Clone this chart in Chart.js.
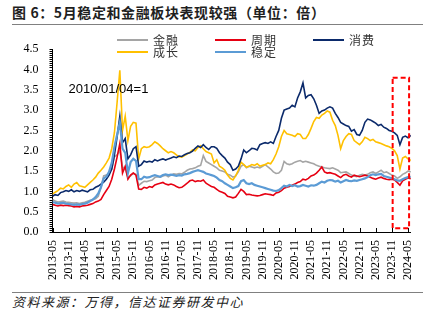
<!DOCTYPE html>
<html>
<head>
<meta charset="utf-8">
<script src="https://cdn.jsdelivr.net/npm/chart.js@4.4.1/dist/chart.umd.min.js"></script>
<style>
  body { margin: 0; width: 437px; height: 326px; background: #fff; position: relative; overflow: hidden;
         font-family: "Noto Sans CJK SC", sans-serif; }
  #title { position: absolute; left: 12px; top: 2px; line-height: 20px; font-size: 14px; font-weight: bold;
           letter-spacing: 0.6px; color: #1f1f1f; white-space: nowrap; }
  .rule { position: absolute; left: 12px; width: 411px; height: 1px; background: #808080; }
  #src { position: absolute; left: 12px; top: 293px; line-height: 18px; font-size: 13px; font-style: italic;
         letter-spacing: 1.5px; color: #222; white-space: nowrap; }
  #wrap { position: absolute; left: 0; top: 28px; width: 437px; height: 264px; }
  .lg { position: absolute; height: 12px; font-size: 12px; line-height: 12px; letter-spacing: 1px; color: #333; white-space: nowrap; }
  .lg i { position: absolute; left: 0; top: 5px; width: 31px; height: 2px; }
  .lg span { position: absolute; left: 36px; top: 0; }
</style>
</head>
<body>
<div id="title">图 6：5月稳定和金融板块表现较强（单位：倍）</div>
<div class="rule" style="top:24px"></div>
<div id="wrap"><canvas id="chart"></canvas></div>
<div class="rule" style="top:292px"></div>
<div id="src">资料来源：万得，信达证券研发中心</div>

<script>
// ---------- Data (monthly, 2013-05 .. 2024-06, 2010/01/04 = 1) ----------
const startYear = 2013, startMonth = 5, monthCount = 134;
const months = [];
for (let i = 0; i < monthCount; i++) {
  const k = startMonth - 1 + i;
  months.push((startYear + Math.floor(k / 12)) + "-" + String(k % 12 + 1).padStart(2, "0"));
}

const seriesNames = ["金融", "周期", "消费", "成长", "稳定"];
const seriesColors = ["#a5a5a5", "#e60012", "#0b2a6b", "#ffc000", "#5b9bd5"];

const finance = [
  0.80,0.76,0.74,0.75,0.76,0.74,0.73,0.72,0.71,0.72,0.70,0.72,0.73,0.76,0.78,0.80,0.82,0.88,1.10,1.38,
  1.40,1.45,1.55,1.85,1.90,2.00,1.60,1.55,1.35,1.38,1.45,1.42,1.15,1.20,1.25,1.24,1.26,1.28,1.34,1.36,
  1.35,1.38,1.40,1.36,1.40,1.43,1.42,1.44,1.43,1.47,1.52,1.55,1.56,1.58,1.62,1.64,1.88,1.74,1.70,1.66,
  1.62,1.58,1.52,1.50,1.48,1.42,1.40,1.35,1.38,1.48,1.62,1.66,1.58,1.62,1.60,1.58,1.60,1.58,1.62,1.66,
  1.60,1.55,1.48,1.44,1.45,1.52,1.74,1.68,1.66,1.68,1.72,1.74,1.76,1.72,1.74,1.72,1.70,1.68,1.64,1.62,
  1.60,1.58,1.57,1.56,1.58,1.55,1.52,1.46,1.47,1.48,1.44,1.40,1.38,1.36,1.40,1.42,1.40,1.42,1.46,1.48,
  1.44,1.48,1.52,1.46,1.48,1.44,1.40,1.38,1.32,1.36,1.42,1.45,1.50,1.48
];
const cyclical = [
  0.68,0.66,0.64,0.66,0.65,0.66,0.65,0.64,0.62,0.63,0.62,0.64,0.65,0.66,0.68,0.70,0.74,0.76,0.80,0.92,
  1.02,1.12,1.30,1.55,1.85,2.18,1.45,1.62,1.30,1.40,1.45,1.40,1.06,1.05,1.10,1.08,1.12,1.10,1.16,1.18,
  1.20,1.22,1.18,1.16,1.18,1.16,1.12,1.09,1.10,1.15,1.20,1.26,1.28,1.24,1.26,1.25,1.28,1.20,1.16,1.12,
  1.10,1.05,1.00,0.98,0.95,0.88,0.86,0.84,0.86,0.95,1.05,1.00,0.92,0.93,0.91,0.90,0.89,0.90,0.92,0.94,
  0.93,0.92,0.90,0.96,0.98,1.02,1.08,1.10,1.12,1.15,1.18,1.22,1.24,1.30,1.28,1.32,1.38,1.40,1.45,1.52,
  1.60,1.48,1.45,1.46,1.44,1.42,1.38,1.34,1.40,1.42,1.38,1.35,1.40,1.38,1.36,1.38,1.40,1.38,1.35,1.32,
  1.30,1.33,1.35,1.32,1.30,1.29,1.30,1.28,1.22,1.15,1.26,1.30,1.33,1.31
];
const consumer = [
  0.88,0.92,0.90,0.97,0.99,1.02,1.00,1.04,0.99,1.02,1.00,1.03,1.01,0.99,1.04,1.05,1.10,1.13,1.18,1.23,
  1.30,1.40,1.55,1.90,2.35,2.85,2.20,2.30,1.80,1.90,2.05,2.10,1.62,1.66,1.75,1.72,1.74,1.72,1.78,1.75,
  1.78,1.80,1.77,1.80,1.82,1.85,1.83,1.87,1.86,1.90,1.93,1.95,1.99,2.06,2.12,2.08,2.15,2.08,2.03,2.10,
  2.10,2.06,1.95,1.88,1.82,1.72,1.66,1.52,1.55,1.62,1.80,2.02,1.95,2.00,2.06,2.05,2.02,2.15,2.18,2.20,
  2.18,2.22,2.18,2.35,2.50,2.80,3.00,3.03,3.05,3.12,3.08,3.30,3.45,3.67,3.30,3.36,3.38,3.28,3.12,2.92,
  2.98,3.00,3.05,3.08,3.05,2.92,2.82,2.70,2.66,2.62,2.60,2.48,2.52,2.40,2.38,2.50,2.70,2.78,2.76,2.72,
  2.68,2.62,2.65,2.58,2.55,2.50,2.48,2.44,2.38,2.15,2.33,2.36,2.32,2.38
];
const growth = [
  0.93,0.98,1.02,1.08,1.06,1.12,1.16,1.10,1.18,1.22,1.14,1.12,1.10,1.16,1.22,1.28,1.35,1.45,1.52,1.60,
  1.70,1.82,2.05,2.45,3.20,3.98,2.50,2.85,2.25,2.60,2.70,2.68,1.80,2.05,2.10,2.08,2.10,2.15,2.22,2.18,
  2.12,2.05,2.00,1.95,1.98,1.95,1.90,1.85,1.84,1.88,1.92,1.96,2.02,2.00,2.08,2.12,2.05,1.98,1.95,1.92,
  1.70,1.78,1.62,1.58,1.52,1.40,1.32,1.28,1.38,1.52,1.72,1.66,1.60,1.62,1.66,1.64,1.68,1.62,1.64,1.66,
  1.70,1.68,1.78,1.92,2.10,2.35,2.50,2.42,2.40,2.38,2.35,2.42,2.40,2.30,2.30,2.40,2.55,2.72,2.82,2.80,
  2.88,2.92,2.98,2.95,2.75,2.62,2.38,2.05,2.25,2.35,2.42,2.40,2.25,2.20,2.15,2.22,2.33,2.30,2.25,2.28,
  2.22,2.20,2.18,2.15,2.12,2.10,2.06,2.00,1.88,1.55,1.82,1.86,1.80,1.76
];
const stable = [
  0.74,0.72,0.70,0.71,0.72,0.70,0.69,0.68,0.67,0.68,0.67,0.69,0.70,0.72,0.76,0.80,0.86,0.95,1.10,1.32,
  1.36,1.48,1.70,2.10,2.40,2.70,2.05,1.95,1.45,1.72,1.80,1.75,1.30,1.30,1.36,1.34,1.35,1.38,1.40,1.38,
  1.36,1.40,1.42,1.40,1.41,1.40,1.38,1.40,1.39,1.42,1.43,1.45,1.48,1.50,1.52,1.50,1.48,1.44,1.42,1.40,
  1.38,1.34,1.28,1.25,1.20,1.16,1.12,1.08,1.10,1.13,1.25,1.28,1.20,1.18,1.20,1.16,1.14,1.12,1.10,1.08,
  1.06,1.04,1.02,1.01,1.03,1.08,1.14,1.12,1.16,1.13,1.15,1.12,1.13,1.16,1.14,1.12,1.15,1.14,1.16,1.20,
  1.24,1.22,1.26,1.28,1.27,1.24,1.26,1.22,1.25,1.28,1.26,1.25,1.27,1.26,1.28,1.30,1.32,1.35,1.40,1.42,
  1.40,1.42,1.43,1.38,1.36,1.34,1.32,1.30,1.27,1.26,1.30,1.33,1.35,1.36
];
const seriesData = [finance, cyclical, consumer, growth, stable];
const drawOrder = [4, 1, 2, 3, 0];   // lower = drawn on top
const yTickLabels = ["0.0","0.5","1.0","1.5","2.0","2.5","3.0","3.5","4.0","4.5"];

// ---------- Legend (HTML, 3 columns x 2 rows) ----------
seriesNames.forEach((name, i) => {
  const el = document.createElement("div");
  el.className = "lg";
  el.style.left = (117 + (i % 3) * 98) + "px";
  el.style.top = (34 + Math.floor(i / 3) * 12) + "px";
  el.innerHTML = '<i style="background:' + seriesColors[i] + '"></i><span>' + name + '</span>';
  document.body.appendChild(el);
});

// ---------- Custom drawing: ticks, note, dashed box ----------
const extras = {
  id: "extras",
  afterDraw(chart) {
    const { ctx, chartArea, scales: { x, y } } = chart;
    ctx.save();
    ctx.strokeStyle = "#000";
    ctx.lineWidth = 1;
    ctx.beginPath();
    for (let i = 0; i <= 90; i++) {
      const py = Math.round(y.getPixelForValue(i * 0.05)) + 0.5;
      ctx.moveTo(chartArea.left - 3, py);
      ctx.lineTo(chartArea.left, py);
    }
    x.ticks.forEach(t => {
      const px = Math.round(x.getPixelForValue(t.value)) + 0.5;
      ctx.moveTo(px, chartArea.bottom);
      ctx.lineTo(px, chartArea.bottom - 4);
    });
    ctx.stroke();

    ctx.fillStyle = "#000";
    ctx.font = '13px "Liberation Sans", Arial, sans-serif';
    ctx.textBaseline = "middle";
    ctx.fillText("2010/01/04=1", chartArea.left + 16, y.getPixelForValue(3.5));

    // highlighted recent period
    const x0 = x.getPixelForValue(126.3), x1 = x.getPixelForValue(132.4);
    const y0 = y.getPixelForValue(3.8), y1 = y.getPixelForValue(0.09);
    ctx.strokeStyle = "#ff0000";
    ctx.lineWidth = 2;
    ctx.setLineDash([5, 3]);
    ctx.strokeRect(x0, y0, x1 - x0, y1 - y0);
    ctx.restore();
  }
};

// ---------- Chart ----------
new Chart(document.getElementById("chart"), {
  type: "line",
  data: {
    labels: months,
    datasets: seriesNames.map((name, i) => ({
      label: name,
      data: seriesData[i],
      borderColor: seriesColors[i],
      borderWidth: i === 4 ? 2.2 : 1.6,
      pointRadius: 0,
      tension: 0,
      fill: false,
      order: drawOrder[i]
    }))
  },
  options: {
    responsive: true,
    maintainAspectRatio: false,
    animation: false,
    layout: { padding: { top: 9.6, right: 26.3, left: 0, bottom: 0 } },
    plugins: { legend: { display: false }, tooltip: { enabled: false } },
    scales: {
      x: {
        type: "category",
        offset: false,
        grid: { display: false, drawTicks: false },
        border: { display: true, color: "#000", width: 1 },
        afterBuildTicks: axis => {
          axis.ticks = axis.ticks.filter(t => /-(05|11)$/.test(months[t.value]));
        },
        afterFit: s => { s.height = 60; },
        ticks: {
          autoSkip: false, minRotation: 90, maxRotation: 90, padding: 8, color: "#000",
          font: { family: '"Liberation Serif", "Times New Roman", serif', size: 12 },
          callback: (v) => months[v]
        }
      },
      y: {
        min: 0, max: 4.5,
        grid: { display: false, drawTicks: false },
        border: { display: true, color: "#000", width: 1 },
        afterFit: s => { s.width = 52.5; },
        ticks: {
          stepSize: 0.5, padding: 14, color: "#000",
          font: { family: '"Liberation Serif", "Times New Roman", serif', size: 12 },
          callback: (v) => yTickLabels[Math.round(v / 0.5)]
        }
      }
    }
  },
  plugins: [extras]
});
</script>
</body>
</html>
